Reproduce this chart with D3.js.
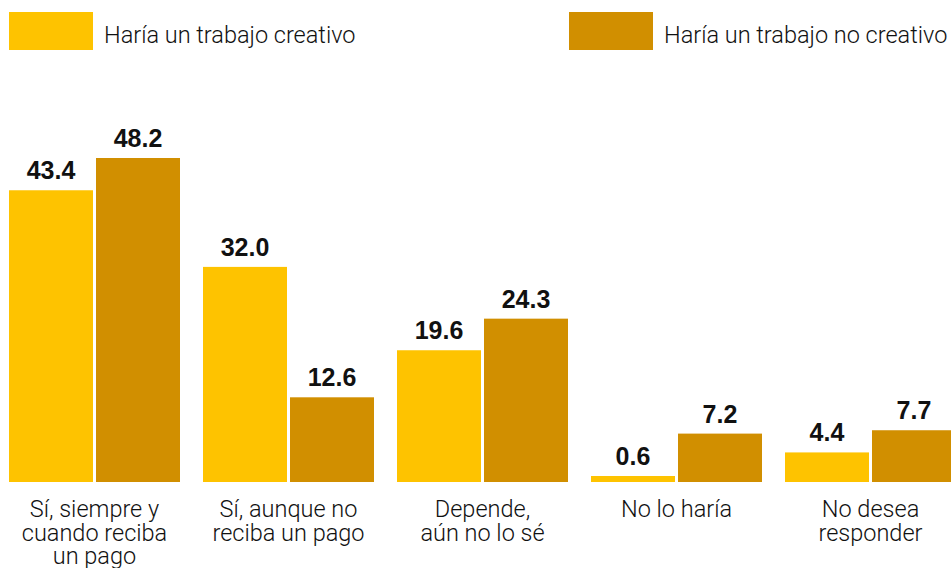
<!DOCTYPE html>
<html><head><meta charset="utf-8">
<script src="https://cdn.jsdelivr.net/npm/d3@7"></script>
<style>html,body{margin:0;padding:0;background:#fff;}</style>
</head><body>
<svg id="chart" width="951" height="568"></svg>
<script>
const categories = [
  ["Sí, siempre y", "cuando reciba", "un pago"],
  ["Sí, aunque no", "reciba un pago"],
  ["Depende,", "aún no lo sé"],
  ["No lo haría"],
  ["No desea", "responder"]
];
const seriesNames = ["Haría un trabajo creativo", "Haría un trabajo no creativo"];
const creativo = [43.4, 32.0, 19.6, 0.6, 4.4];
const noCreativo = [48.2, 12.6, 24.3, 7.2, 7.7];
const colors = ["#FEC300", "#D18F00"];

const svg = d3.select("#chart");
const catKeys = categories.map((c, i) => i);
const x0 = d3.scaleBand().domain(catKeys).range([9, 956]).paddingInner(23/194).paddingOuter(0);
const x1 = d3.scaleBand().domain([0, 1]).range([0, x0.bandwidth()]).paddingInner(3/87).paddingOuter(0);
const y = d3.scaleLinear().domain([0, 48.2]).range([482, 158]);
const values = [creativo, noCreativo];
const lightFont = "Roboto, 'Helvetica Neue', sans-serif";
const boldFont = "'Liberation Sans', Arial, sans-serif";

// legend
const legendX = [9, 569];
seriesNames.forEach((name, i) => {
  svg.append("rect").attr("x", legendX[i]).attr("y", 12).attr("width", 84).attr("height", 38).attr("fill", colors[i]);
  svg.append("text").attr("x", legendX[i] + 95).attr("y", 43)
    .attr("font-family", lightFont).attr("font-weight", 300).attr("font-size", 23.5)
    .attr("fill", "#111").text(name);
});

// bars
const groups = svg.append("g").selectAll("g").data(catKeys).join("g")
  .attr("transform", d => `translate(${x0(d)},0)`);
groups.selectAll("rect").data(i => values.map((v, s) => ({s, v: v[i]}))).join("rect")
  .attr("x", d => x1(d.s)).attr("width", x1.bandwidth())
  .attr("y", d => Math.min(y(d.v), y(0) - 6)).attr("height", d => Math.max(y(0) - y(d.v), 6))
  .attr("fill", d => colors[d.s]);
groups.selectAll("text.val").data(i => values.map((v, s) => ({s, v: v[i]}))).join("text")
  .attr("class", "val")
  .attr("x", d => x1(d.s) + x1.bandwidth() / 2)
  .attr("y", d => Math.min(y(d.v), y(0) - 6) - 11)
  .attr("text-anchor", "middle")
  .attr("font-family", boldFont).attr("font-weight", 700).attr("font-size", 25)
  .attr("fill", "#111").text(d => d.v.toFixed(1));

// category labels
groups.each(function(i) {
  const t = d3.select(this).append("text")
    .attr("text-anchor", "middle")
    .attr("font-family", lightFont).attr("font-weight", 300).attr("font-size", 23.5)
    .attr("fill", "#111");
  categories[i].forEach((line, k) => {
    t.append("tspan").attr("x", x0.bandwidth() / 2).attr("y", 517 + k * 23.5).text(line);
  });
});
</script>
</body></html>
